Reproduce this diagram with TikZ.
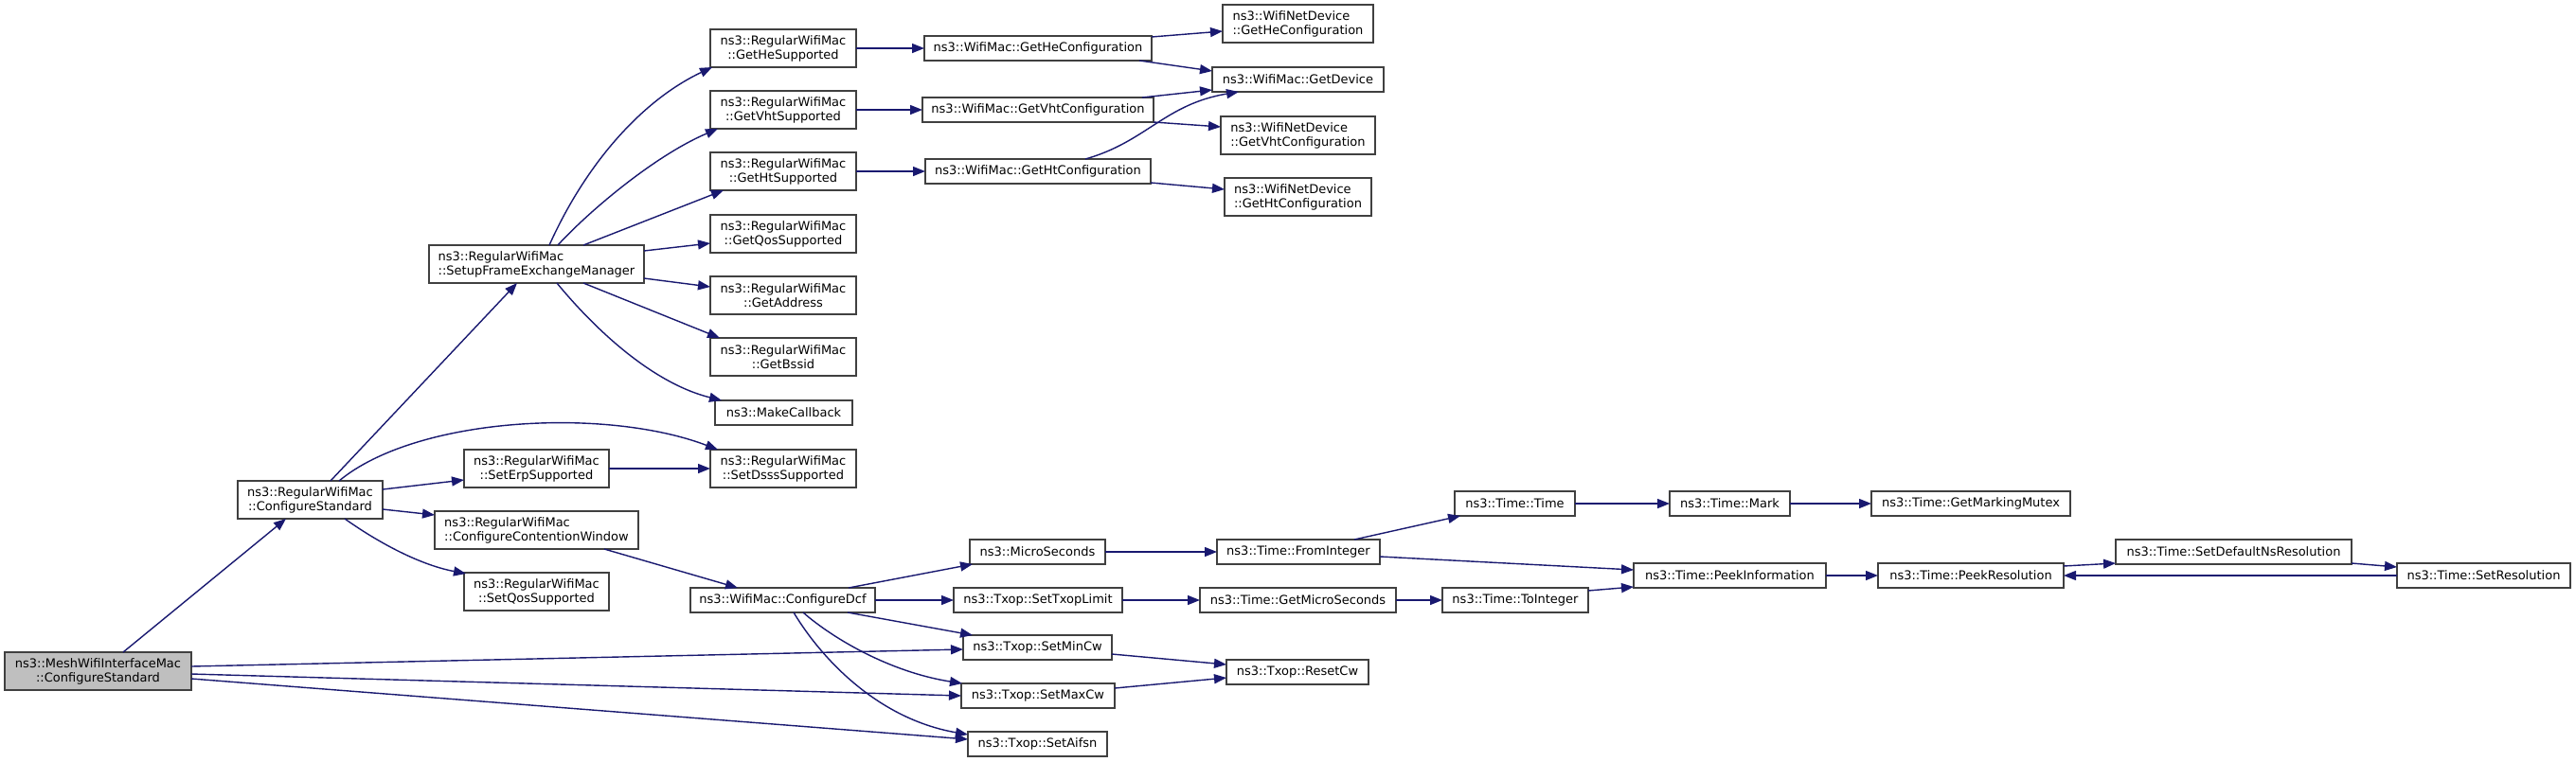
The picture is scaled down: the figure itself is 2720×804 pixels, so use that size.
\documentclass[tikz,border=0pt]{standalone}
\usepackage{fontspec}
\setmainfont{DejaVu Sans}
\usetikzlibrary{arrows.meta,calc}
\definecolor{midnight}{HTML}{191970}
\definecolor{boxline}{HTML}{404040}
\tikzset{
  box/.style={draw=boxline, line width=1.4pt, fill=white, inner sep=0pt, outer sep=0pt,
    anchor=north west, font=\fontsize{13pt}{15pt}\selectfont, align=center},
  bw/.style={minimum width=#1pt},
  bh/.style={minimum height=#1pt},
  edge/.style={draw=midnight, line width=1.4pt, -{Triangle[length=13pt,width=10pt]}}
}
\begin{document}
\begin{tikzpicture}[x=1pt,y=-1pt]
\fill[white] (0,0) rectangle (2720,804);
\useasboundingbox (0,0) rectangle (2720,804);
% nodes
\node[box,bw=197,bh=40,fill=black!25] (mesh) at (5,689) {ns3::MeshWifiInterfaceMac\\::ConfigureStandard};
\node[box,bw=153,bh=40] (cstd) at (251,508) {ns3::RegularWifiMac\\::ConfigureStandard};
\node[box,bw=227,bh=40,align=left] (sfem) at (453,259) {ns3::RegularWifiMac\\::SetupFrameExchangeManager};
\node[box,bw=154,bh=40] (gHeS) at (750,31) {ns3::RegularWifiMac\\::GetHeSupported};
\node[box,bw=154,bh=40] (gVhtS) at (750,96) {ns3::RegularWifiMac\\::GetVhtSupported};
\node[box,bw=154,bh=40] (gHtS) at (750,161) {ns3::RegularWifiMac\\::GetHtSupported};
\node[box,bw=154,bh=40] (gQosS) at (750,227) {ns3::RegularWifiMac\\::GetQosSupported};
\node[box,bw=154,bh=40] (gAddr) at (750,292) {ns3::RegularWifiMac\\::GetAddress};
\node[box,bw=154,bh=40] (gBssid) at (750,357) {ns3::RegularWifiMac\\::GetBssid};
\node[box,bw=145,bh=26] (mkcb) at (755,423) {ns3::MakeCallback};
\node[box,bw=154,bh=40] (sDsss) at (750,475) {ns3::RegularWifiMac\\::SetDsssSupported};
\node[box,bw=153,bh=40] (sErp) at (490,475) {ns3::RegularWifiMac\\::SetErpSupported};
\node[box,bw=215,bh=40,align=left] (ccw) at (459,540) {ns3::RegularWifiMac\\::ConfigureContentionWindow};
\node[box,bw=153,bh=40] (sQos) at (490,605) {ns3::RegularWifiMac\\::SetQosSupported};
\node[box,bw=195,bh=26] (cdcf) at (729,621) {ns3::WifiMac::ConfigureDcf};
\node[box,bw=240,bh=26] (wHe) at (976,38) {ns3::WifiMac::GetHeConfiguration};
\node[box,bw=244,bh=26] (wVht) at (974,103) {ns3::WifiMac::GetVhtConfiguration};
\node[box,bw=238,bh=26] (wHt) at (977,168) {ns3::WifiMac::GetHtConfiguration};
\node[box,bw=159,bh=40,align=left] (nHe) at (1291,5) {ns3::WifiNetDevice\\::GetHeConfiguration};
\node[box,bw=181,bh=26] (gDev) at (1280,71) {ns3::WifiMac::GetDevice};
\node[box,bw=163,bh=40,align=left] (nVht) at (1289,123) {ns3::WifiNetDevice\\::GetVhtConfiguration};
\node[box,bw=155,bh=40,align=left] (nHt) at (1293,188) {ns3::WifiNetDevice\\::GetHtConfiguration};
\node[box,bw=143,bh=26] (micro) at (1024,570) {ns3::MicroSeconds};
\node[box,bw=178,bh=26] (txl) at (1007,621) {ns3::Txop::SetTxopLimit};
\node[box,bw=157,bh=26] (minCw) at (1017,671) {ns3::Txop::SetMinCw};
\node[box,bw=162,bh=26] (maxCw) at (1015,722) {ns3::Txop::SetMaxCw};
\node[box,bw=147,bh=26] (aifsn) at (1022,773) {ns3::Txop::SetAifsn};
\node[box,bw=172,bh=26] (fromInt) at (1285,570) {ns3::Time::FromInteger};
\node[box,bw=207,bh=26] (getMicro) at (1267,621) {ns3::Time::GetMicroSeconds};
\node[box,bw=150,bh=26] (resetCw) at (1295,697) {ns3::Txop::ResetCw};
\node[box,bw=127,bh=26] (tTime) at (1536,519) {ns3::Time::Time};
\node[box,bw=127,bh=26] (tMark) at (1763,519) {ns3::Time::Mark};
\node[box,bw=210,bh=26] (tMutex) at (1976,519) {ns3::Time::GetMarkingMutex};
\node[box,bw=154,bh=26] (toInt) at (1523,621) {ns3::Time::ToInteger};
\node[box,bw=203,bh=26] (peekInfo) at (1725,595) {ns3::Time::PeekInformation};
\node[box,bw=196,bh=26] (peekRes) at (1983,595) {ns3::Time::PeekResolution};
\node[box,bw=249,bh=26] (setDef) at (2234,570) {ns3::Time::SetDefaultNsResolution};
\node[box,bw=183,bh=26] (setRes) at (2531,595) {ns3::Time::SetResolution};
% edges
\draw[edge] ($(mesh.north west)+(125,0)$) -- ($(cstd.south west)+(51,0)$);
\draw[edge] ($(mesh.east)+(0,-5)$) -- ($(minCw.west)+(0,2)$);
\draw[edge] ($(mesh.east)+(0,3)$) -- (maxCw.west);
\draw[edge] ($(mesh.east)+(0,8)$) -- ($(aifsn.west)+(0,-5)$);
\draw[edge] ($(cstd.north west)+(98,0)$) -- ($(sfem.south west)+(93,0)$);
\draw[edge] ($(cstd.north west)+(107,0)$) .. controls ($(cstd.north west)+(189,-68)$) and ($(sDsss.north west)+(-110,-45)$) .. ($(sDsss.north west)+(8,0)$);
\draw[edge] ($(cstd.north east)+(0,9)$) -- ($(sErp.north west)+(0,32)$);
\draw[edge] ($(cstd.north east)+(0,30)$) -- ($(ccw.north west)+(0,4)$);
\draw[edge] ($(cstd.south west)+(113,0)$) .. controls ($(cstd.south west)+(144,22)$) and ($(sQos.north west)+(-50,-9)$) .. ($(sQos.north west)+(2,1)$);
\draw[edge] (sErp.east) -- (sDsss.west);
\draw[edge] ($(ccw.south west)+(179,0)$) -- ($(cdcf.north west)+(50,0)$);
\draw[edge] ($(sfem.north west)+(127,0)$) .. controls ($(sfem.north west)+(167,-89)$) and ($(gHeS.south west)+(-70,34)$) .. ($(gHeS.south west)+(2,0)$);
\draw[edge] ($(sfem.north west)+(136,0)$) .. controls ($(sfem.north west)+(167,-34)$) and ($(gVhtS.south west)+(-60,29)$) .. ($(gVhtS.south west)+(8,0)$);
\draw[edge] ($(sfem.north west)+(163,0)$) -- ($(gHtS.south west)+(14,0)$);
\draw[edge] ($(sfem.north east)+(0,6)$) -- ($(gQosS.north west)+(0,30)$);
\draw[edge] ($(sfem.north east)+(0,35)$) -- ($(gAddr.north west)+(0,11)$);
\draw[edge] ($(sfem.south west)+(163,0)$) -- ($(gBssid.north west)+(10,0)$);
\draw[edge] ($(sfem.south west)+(135,0)$) .. controls ($(sfem.south west)+(177,51)$) and ($(mkcb.north west)+(-65,-18)$) .. ($(mkcb.north west)+(7,0)$);
\draw[edge] (gHeS.east) -- (gHeS.east -| wHe.west);
\draw[edge] (gVhtS.east) -- (gVhtS.east -| wVht.west);
\draw[edge] (gHtS.east) -- (gHtS.east -| wHt.west);
\draw[edge] ($(wHe.north east)+(0,1)$) -- ($(nHe.north west)+(0,28)$);
\draw[edge] ($(wHe.south east)+(-13,0)$) -- ($(gDev.north west)+(0,4)$);
\draw[edge] ($(wVht.north east)+(-12,0)$) -- ($(gDev.north west)+(0,24)$);
\draw[edge] (wVht.south east) -- ($(nVht.north west)+(0,11)$);
\draw[edge] ($(wHt.north west)+(169,0)$) .. controls ($(wHt.north west)+(233,-18)$) and ($(gDev.south west)+(-50,13)$) .. ($(gDev.south west)+(28,0)$);
\draw[edge] ($(wHt.south east)+(0,-1)$) -- ($(nHt.north west)+(0,12)$);
\draw[edge] ($(cdcf.north west)+(167,0)$) -- ($(micro.south west)+(3,0)$);
\draw[edge] (cdcf.east) -- (txl.west);
\draw[edge] ($(cdcf.south west)+(166,0)$) -- ($(minCw.north west)+(10,0)$);
\draw[edge] ($(cdcf.south west)+(119,0)$) .. controls ($(cdcf.south west)+(151,28)$) and ($(maxCw.north west)+(-75,-12)$) .. ($(maxCw.north west)+(1,0)$);
\draw[edge] ($(cdcf.south west)+(109,0)$) .. controls ($(cdcf.south west)+(141,53)$) and ($(aifsn.north west)+(-92,-13)$) .. ($(aifsn.north west)+(0,3)$);
\draw[edge] (micro.east) -- (fromInt.west);
\draw[edge] (txl.east) -- (getMicro.west);
\draw[edge] ($(minCw.north east)+(0,20)$) -- ($(resetCw.north west)+(0,5)$);
\draw[edge] ($(maxCw.north east)+(0,5)$) -- ($(resetCw.north west)+(0,19)$);
\draw[edge] ($(fromInt.north west)+(145,0)$) -- ($(tTime.south west)+(6,0)$);
\draw[edge] ($(fromInt.north east)+(0,18)$) -- ($(peekInfo.north west)+(0,7)$);
\draw[edge] (getMicro.east) -- (toInt.west);
\draw[edge] ($(toInt.north east)+(0,3)$) -- ($(peekInfo.north west)+(0,25)$);
\draw[edge] (tTime.east) -- (tMark.west);
\draw[edge] (tMark.east) -- (tMutex.west);
\draw[edge] (peekInfo.east) -- (peekRes.west);
\draw[edge] ($(peekRes.north east)+(0,3)$) -- ($(setDef.south west)+(0,-1)$);
\draw[edge] ($(setDef.south east)+(0,-1)$) -- ($(setRes.north west)+(0,4)$);
\draw[edge] (setRes.west) -- (peekRes.east);
\end{tikzpicture}
\end{document}
